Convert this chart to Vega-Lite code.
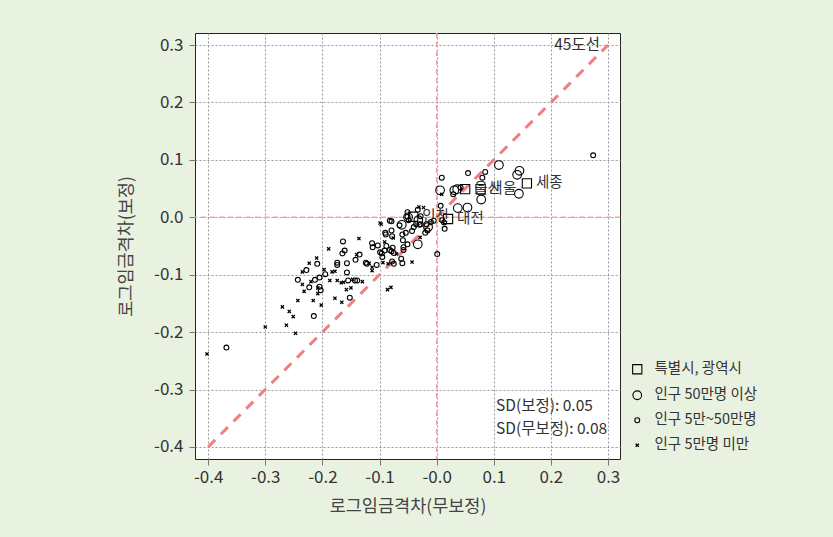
{
  "$schema": "https://vega.github.io/schema/vega-lite/v6.json",
  "autosize": "none",
  "width": 425,
  "height": 426,
  "padding": {"left": 195, "top": 33, "right": 213, "bottom": 78},
  "background": "#e9f2e1",
  "data": {"values": [{}]},
  "config": {
    "font": "Noto Sans CJK KR",
    "view": {"fill": "white", "stroke": "#222", "strokeWidth": 1},
    "axis": {
      "grid": true, "gridColor": "#999", "gridDash": [2, 2], "gridWidth": 1,
      "domain": false, "tickColor": "#777", "tickSize": 6,
      "labelColor": "#333", "labelFontSize": 17, "titleColor": "#444",
      "titleFontSize": 17.5, "titleFontWeight": "normal"
    }
  },
  "datasets": {
    "pts": [
      {"x": -0.402, "y": -0.238, "t": "인구 5만명 미만"},
      {"x": -0.300, "y": -0.191, "t": "인구 5만명 미만"},
      {"x": -0.263, "y": -0.188, "t": "인구 5만명 미만"},
      {"x": -0.247, "y": -0.202, "t": "인구 5만명 미만"},
      {"x": -0.270, "y": -0.156, "t": "인구 5만명 미만"},
      {"x": -0.258, "y": -0.164, "t": "인구 5만명 미만"},
      {"x": -0.251, "y": -0.173, "t": "인구 5만명 미만"},
      {"x": -0.243, "y": -0.145, "t": "인구 5만명 미만"},
      {"x": -0.216, "y": -0.145, "t": "인구 5만명 미만"},
      {"x": -0.202, "y": -0.153, "t": "인구 5만명 미만"},
      {"x": -0.208, "y": -0.133, "t": "인구 5만명 미만"},
      {"x": -0.235, "y": -0.117, "t": "인구 5만명 미만"},
      {"x": -0.232, "y": -0.129, "t": "인구 5만명 미만"},
      {"x": -0.235, "y": -0.095, "t": "인구 5만명 미만"},
      {"x": -0.223, "y": -0.080, "t": "인구 5만명 미만"},
      {"x": -0.210, "y": -0.071, "t": "인구 5만명 미만"},
      {"x": -0.220, "y": -0.112, "t": "인구 5만명 미만"},
      {"x": -0.208, "y": -0.123, "t": "인구 5만명 미만"},
      {"x": -0.197, "y": -0.091, "t": "인구 5만명 미만"},
      {"x": -0.189, "y": -0.055, "t": "인구 5만명 미만"},
      {"x": -0.187, "y": -0.110, "t": "인구 5만명 미만"},
      {"x": -0.183, "y": -0.095, "t": "인구 5만명 미만"},
      {"x": -0.178, "y": -0.094, "t": "인구 5만명 미만"},
      {"x": -0.174, "y": -0.110, "t": "인구 5만명 미만"},
      {"x": -0.167, "y": -0.114, "t": "인구 5만명 미만"},
      {"x": -0.163, "y": -0.113, "t": "인구 5만명 미만"},
      {"x": -0.158, "y": -0.126, "t": "인구 5만명 미만"},
      {"x": -0.150, "y": -0.123, "t": "인구 5만명 미만"},
      {"x": -0.178, "y": -0.141, "t": "인구 5만명 미만"},
      {"x": -0.166, "y": -0.148, "t": "인구 5만명 미만"},
      {"x": -0.147, "y": -0.108, "t": "인구 5만명 미만"},
      {"x": -0.130, "y": -0.112, "t": "인구 5만명 미만"},
      {"x": -0.140, "y": -0.065, "t": "인구 5만명 미만"},
      {"x": -0.136, "y": -0.037, "t": "인구 5만명 미만"},
      {"x": -0.118, "y": -0.080, "t": "인구 5만명 미만"},
      {"x": -0.113, "y": -0.087, "t": "인구 5만명 미만"},
      {"x": -0.113, "y": -0.093, "t": "인구 5만명 미만"},
      {"x": -0.097, "y": -0.012, "t": "인구 5만명 미만"},
      {"x": -0.091, "y": -0.043, "t": "인구 5만명 미만"},
      {"x": -0.094, "y": -0.079, "t": "인구 5만명 미만"},
      {"x": -0.086, "y": -0.126, "t": "인구 5만명 미만"},
      {"x": -0.080, "y": -0.122, "t": "인구 5만명 미만"},
      {"x": -0.085, "y": -0.081, "t": "인구 5만명 미만"},
      {"x": -0.070, "y": -0.064, "t": "인구 5만명 미만"},
      {"x": -0.076, "y": -0.036, "t": "인구 5만명 미만"},
      {"x": -0.043, "y": -0.078, "t": "인구 5만명 미만"},
      {"x": -0.029, "y": -0.035, "t": "인구 5만명 미만"},
      {"x": -0.023, "y": 0.017, "t": "인구 5만명 미만"},
      {"x": 0.009, "y": 0.040, "t": "인구 5만명 미만"},
      {"x": -0.099, "y": -0.010, "t": "인구 5만명 미만"},
      {"x": -0.031, "y": 0.018, "t": "인구 5만명 미만"},
      {"x": -0.368, "y": -0.227, "t": "인구 5만~50만명"},
      {"x": -0.215, "y": -0.172, "t": "인구 5만~50만명"},
      {"x": -0.243, "y": -0.109, "t": "인구 5만~50만명"},
      {"x": -0.223, "y": -0.122, "t": "인구 5만~50만명"},
      {"x": -0.228, "y": -0.092, "t": "인구 5만~50만명"},
      {"x": -0.209, "y": -0.081, "t": "인구 5만~50만명"},
      {"x": -0.213, "y": -0.109, "t": "인구 5만~50만명"},
      {"x": -0.205, "y": -0.105, "t": "인구 5만~50만명"},
      {"x": -0.205, "y": -0.121, "t": "인구 5만~50만명"},
      {"x": -0.203, "y": -0.127, "t": "인구 5만~50만명"},
      {"x": -0.195, "y": -0.099, "t": "인구 5만~50만명"},
      {"x": -0.174, "y": -0.079, "t": "인구 5만~50만명"},
      {"x": -0.174, "y": -0.083, "t": "인구 5만~50만명"},
      {"x": -0.164, "y": -0.042, "t": "인구 5만~50만명"},
      {"x": -0.161, "y": -0.058, "t": "인구 5만~50만명"},
      {"x": -0.165, "y": -0.063, "t": "인구 5만~50만명"},
      {"x": -0.157, "y": -0.080, "t": "인구 5만~50만명"},
      {"x": -0.157, "y": -0.096, "t": "인구 5만~50만명"},
      {"x": -0.155, "y": -0.110, "t": "인구 5만~50만명"},
      {"x": -0.152, "y": -0.140, "t": "인구 5만~50만명"},
      {"x": -0.143, "y": -0.110, "t": "인구 5만~50만명"},
      {"x": -0.139, "y": -0.110, "t": "인구 5만~50만명"},
      {"x": -0.142, "y": -0.074, "t": "인구 5만~50만명"},
      {"x": -0.135, "y": -0.065, "t": "인구 5만~50만명"},
      {"x": -0.124, "y": -0.079, "t": "인구 5만~50만명"},
      {"x": -0.122, "y": -0.081, "t": "인구 5만~50만명"},
      {"x": -0.105, "y": -0.083, "t": "인구 5만~50만명"},
      {"x": -0.113, "y": -0.045, "t": "인구 5만~50만명"},
      {"x": -0.112, "y": -0.052, "t": "인구 5만~50만명"},
      {"x": -0.103, "y": -0.049, "t": "인구 5만~50만명"},
      {"x": -0.082, "y": -0.006, "t": "인구 5만~50만명"},
      {"x": -0.090, "y": -0.027, "t": "인구 5만~50만명"},
      {"x": -0.089, "y": -0.030, "t": "인구 5만~50만명"},
      {"x": -0.088, "y": -0.050, "t": "인구 5만~50만명"},
      {"x": -0.091, "y": -0.058, "t": "인구 5만~50만명"},
      {"x": -0.099, "y": -0.061, "t": "인구 5만~50만명"},
      {"x": -0.096, "y": -0.063, "t": "인구 5만~50만명"},
      {"x": -0.095, "y": -0.069, "t": "인구 5만~50만명"},
      {"x": -0.079, "y": -0.023, "t": "인구 5만~50만명"},
      {"x": -0.078, "y": -0.033, "t": "인구 5만~50만명"},
      {"x": -0.077, "y": -0.053, "t": "인구 5만~50만명"},
      {"x": -0.082, "y": -0.057, "t": "인구 5만~50만명"},
      {"x": -0.079, "y": -0.059, "t": "인구 5만~50만명"},
      {"x": -0.075, "y": -0.062, "t": "인구 5만~50만명"},
      {"x": -0.078, "y": -0.077, "t": "인구 5만~50만명"},
      {"x": -0.075, "y": -0.081, "t": "인구 5만~50만명"},
      {"x": -0.065, "y": -0.014, "t": "인구 5만~50만명"},
      {"x": -0.060, "y": -0.030, "t": "인구 5만~50만명"},
      {"x": -0.059, "y": -0.040, "t": "인구 5만~50만명"},
      {"x": -0.058, "y": -0.052, "t": "인구 5만~50만명"},
      {"x": -0.062, "y": -0.072, "t": "인구 5만~50만명"},
      {"x": -0.060, "y": -0.080, "t": "인구 5만~50만명"},
      {"x": -0.058, "y": -0.057, "t": "인구 5만~50만명"},
      {"x": -0.051, "y": 0.009, "t": "인구 5만~50만명"},
      {"x": -0.051, "y": 0.001, "t": "인구 5만~50만명"},
      {"x": -0.049, "y": -0.005, "t": "인구 5만~50만명"},
      {"x": -0.054, "y": -0.027, "t": "인구 5만~50만명"},
      {"x": -0.051, "y": -0.047, "t": "인구 5만~50만명"},
      {"x": -0.043, "y": -0.024, "t": "인구 5만~50만명"},
      {"x": -0.040, "y": -0.017, "t": "인구 5만~50만명"},
      {"x": -0.036, "y": -0.012, "t": "인구 5만~50만명"},
      {"x": -0.033, "y": 0.013, "t": "인구 5만~50만명"},
      {"x": -0.030, "y": -0.013, "t": "인구 5만~50만명"},
      {"x": -0.028, "y": -0.012, "t": "인구 5만~50만명"},
      {"x": -0.028, "y": 0.002, "t": "인구 5만~50만명"},
      {"x": -0.016, "y": -0.023, "t": "인구 5만~50만명"},
      {"x": -0.018, "y": -0.012, "t": "인구 5만~50만명"},
      {"x": 0.001, "y": -0.064, "t": "인구 5만~50만명"},
      {"x": 0.007, "y": 0.020, "t": "인구 5만~50만명"},
      {"x": 0.014, "y": -0.020, "t": "인구 5만~50만명"},
      {"x": 0.274, "y": 0.108, "t": "인구 5만~50만명"},
      {"x": 0.085, "y": 0.079, "t": "인구 5만~50만명"},
      {"x": 0.080, "y": 0.069, "t": "인구 5만~50만명"},
      {"x": 0.055, "y": 0.077, "t": "인구 5만~50만명"},
      {"x": 0.009, "y": 0.069, "t": "인구 5만~50만명"},
      {"x": 0.042, "y": 0.052, "t": "인구 5만~50만명"},
      {"x": 0.029, "y": 0.040, "t": "인구 5만~50만명"},
      {"x": 0.010, "y": -0.005, "t": "인구 5만~50만명"},
      {"x": 0.013, "y": -0.009, "t": "인구 5만~50만명"},
      {"x": -0.010, "y": -0.008, "t": "인구 5만~50만명"},
      {"x": -0.005, "y": -0.006, "t": "인구 5만~50만명"},
      {"x": -0.020, "y": -0.027, "t": "인구 5만~50만명"},
      {"x": -0.079, "y": -0.007, "t": "인구 5만~50만명"},
      {"x": -0.061, "y": -0.013, "t": "인구 50만명 이상"},
      {"x": -0.033, "y": -0.047, "t": "인구 50만명 이상"},
      {"x": 0.037, "y": 0.016, "t": "인구 50만명 이상"},
      {"x": 0.054, "y": 0.017, "t": "인구 50만명 이상"},
      {"x": 0.109, "y": 0.091, "t": "인구 50만명 이상"},
      {"x": 0.145, "y": 0.081, "t": "인구 50만명 이상"},
      {"x": 0.141, "y": 0.074, "t": "인구 50만명 이상"},
      {"x": 0.144, "y": 0.041, "t": "인구 50만명 이상"},
      {"x": 0.006, "y": 0.047, "t": "인구 50만명 이상"},
      {"x": 0.031, "y": 0.047, "t": "인구 50만명 이상"},
      {"x": 0.036, "y": 0.049, "t": "인구 50만명 이상"},
      {"x": 0.078, "y": 0.031, "t": "인구 50만명 이상"},
      {"x": -0.050, "y": 0.000, "t": "인구 50만명 이상"},
      {"x": -0.032, "y": -0.005, "t": "인구 50만명 이상"},
      {"x": -0.015, "y": -0.017, "t": "인구 50만명 이상"},
      {"x": -0.041, "y": 0.001, "t": "특별시, 광역시", "label": "인천"},
      {"x": 0.020, "y": -0.003, "t": "특별시, 광역시", "label": "대전"},
      {"x": 0.050, "y": 0.049, "t": "특별시, 광역시", "label": "울산"},
      {"x": 0.077, "y": 0.049, "t": "특별시, 광역시", "label": "서울"},
      {"x": 0.158, "y": 0.059, "t": "특별시, 광역시", "label": "세종"}
    ]
  },
  "layer": [
    {
      "mark": {"type": "rule", "color": "#f5a3ab", "strokeWidth": 1.5, "strokeDash": [5, 4]},
      "encoding": {"y": {"datum": 0, "type": "quantitative"}}
    },
    {
      "mark": {"type": "rule", "color": "#f5a3ab", "strokeWidth": 1.5, "strokeDash": [5, 4]},
      "encoding": {"x": {"datum": 0, "type": "quantitative"}}
    },
    {
      "mark": {"type": "rule", "color": "#f08080", "strokeWidth": 3, "strokeDash": [10, 8]},
      "encoding": {
        "x": {"datum": -0.4, "type": "quantitative"},
        "y": {"datum": -0.4, "type": "quantitative"},
        "x2": {"datum": 0.3},
        "y2": {"datum": 0.3}
      }
    },
    {
      "data": {"name": "pts"},
      "mark": {"type": "point", "filled": false, "color": "black", "strokeWidth": 1.1, "opacity": 1},
      "encoding": {
        "x": {
          "field": "x", "type": "quantitative",
          "scale": {"domain": [-0.423, 0.321], "nice": false, "zero": false},
          "axis": {
            "title": "로그임금격차(무보정)", "values": [-0.4, -0.3, -0.2, -0.1, 0, 0.1, 0.2, 0.3],
            "labelExpr": "datum.value == 0 ? '-0.0' : (datum.value < 0 ? '-' : '') + format(abs(datum.value), '.1f')",
            "labelPadding": 4, "titlePadding": 12, "grid": true
          }
        },
        "y": {
          "field": "y", "type": "quantitative",
          "scale": {"domain": [-0.421, 0.321], "nice": false, "zero": false},
          "axis": {
            "title": "로그임금격차(보정)", "values": [-0.4, -0.3, -0.2, -0.1, 0, 0.1, 0.2, 0.3],
            "labelExpr": "(datum.value < 0 ? '-' : '') + format(abs(datum.value), '.1f')",
            "labelPadding": 6, "titlePadding": 18, "grid": true
          }
        },
        "shape": {
          "field": "t", "type": "nominal",
          "scale": {
            "domain": ["특별시, 광역시", "인구 50만명 이상", "인구 5만~50만명", "인구 5만명 미만"],
            "range": ["square", "circle", "circle", "M-0.5,-0.5L0.5,0.5M-0.5,0.5L0.5,-0.5"]
          },
          "legend": {
            "title": null, "orient": "none", "legendX": 435, "legendY": 329,
            "labelFontSize": 14.5, "labelColor": "#333", "rowPadding": 10,
            "symbolStrokeColor": "black", "symbolStrokeWidth": 1.3, "labelOffset": 10
          }
        },
        "size": {
          "field": "t", "type": "nominal",
          "scale": {
            "type": "ordinal",
            "domain": ["특별시, 광역시", "인구 50만명 이상", "인구 5만~50만명", "인구 5만명 미만"],
            "range": [85, 75, 24, 40]
          },
          "legend": {
            "title": null, "orient": "none", "legendX": 435, "legendY": 329,
            "labelFontSize": 14.5, "labelColor": "#333", "rowPadding": 10,
            "symbolStrokeColor": "black", "symbolStrokeWidth": 1.3, "labelOffset": 10
          }
        },
        "strokeWidth": {
          "field": "t", "type": "nominal",
          "scale": {
            "type": "ordinal",
            "domain": ["특별시, 광역시", "인구 50만명 이상", "인구 5만~50만명", "인구 5만명 미만"],
            "range": [1.1, 1.1, 1.1, 1.3]
          },
          "legend": null
        }
      }
    },
    {
      "data": {"name": "pts"},
      "transform": [{"filter": "datum.label != null"}],
      "mark": {"type": "text", "align": "left", "baseline": "middle", "dx": 9, "fontSize": 14.5, "color": "#333"},
      "encoding": {
        "x": {"field": "x", "type": "quantitative"},
        "y": {"field": "y", "type": "quantitative"},
        "text": {"field": "label"}
      }
    },
    {
      "mark": {"type": "text", "align": "right", "baseline": "middle", "fontSize": 15.5, "color": "#333", "text": "45도선"},
      "encoding": {"x": {"datum": 0.286, "type": "quantitative"}, "y": {"datum": 0.3, "type": "quantitative"}}
    },
    {
      "mark": {"type": "text", "align": "left", "baseline": "middle", "fontSize": 15.5, "color": "#333", "text": "SD(보정): 0.05"},
      "encoding": {"x": {"datum": 0.104, "type": "quantitative"}, "y": {"datum": -0.329, "type": "quantitative"}}
    },
    {
      "mark": {"type": "text", "align": "left", "baseline": "middle", "fontSize": 15.5, "color": "#333", "text": "SD(무보정): 0.08"},
      "encoding": {"x": {"datum": 0.104, "type": "quantitative"}, "y": {"datum": -0.369, "type": "quantitative"}}
    }
  ]
}
